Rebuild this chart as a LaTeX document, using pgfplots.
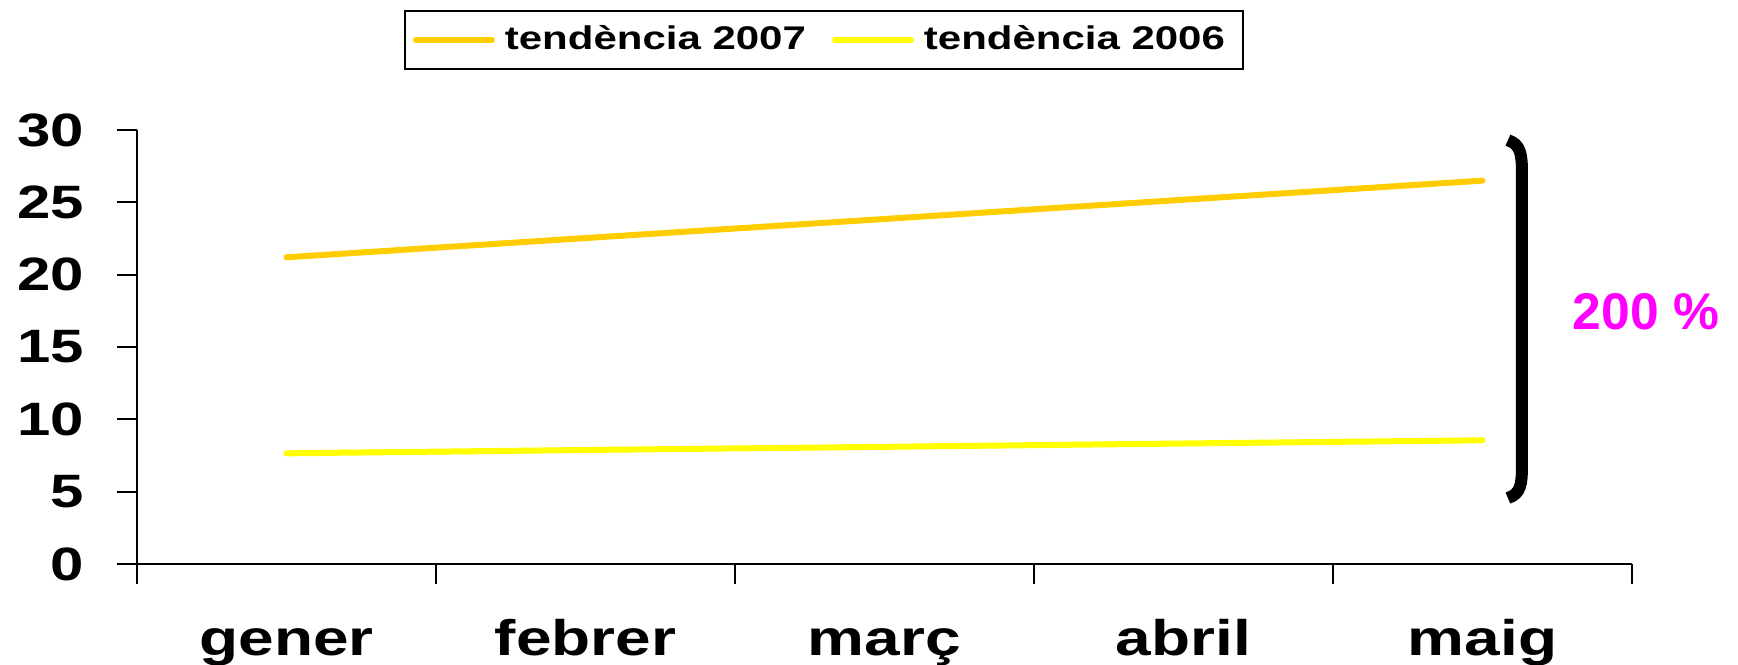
\documentclass[border=0pt]{standalone}
\usepackage{fontspec}
\setmainfont[FakeStretch=1.28]{Liberation Sans}
\newfontfamily\plainsans{Liberation Sans}
\usepackage{pgfplots}
\pgfplotsset{compat=1.18}
\definecolor{gold}{RGB}{255,204,0}
\definecolor{yel}{RGB}{255,255,0}
\definecolor{mag}{RGB}{255,0,255}

\begin{document}
\begin{tikzpicture}
\begin{axis}[
    at={(0pt,0pt)}, anchor=south west,
    width=373.75pt, height=108.5pt, scale only axis,
    xmin=0, xmax=5, ymin=0, ymax=30,
    axis x line=bottom, axis y line=left,
    axis line style={-, line width=0.5pt},
    xtick={0,1,2,3,4,5},
    xticklabels={gener,febrer,març,abril,maig},
    x tick label as interval,
    ytick={0,5,10,15,20,25,30},
    tick align=outside,
    major tick length=5pt,
    tick style={line width=0.5pt, black},
    /pgf/number format/assume math mode=true,
    yticklabel style={font=\fontsize{11.7}{13}\selectfont\bfseries, anchor=east, inner sep=0pt, xshift=-8pt},
    xticklabel style={font=\fontsize{12.5}{14}\selectfont\bfseries, anchor=base, inner sep=0pt, yshift=-17.8pt},
    clip=false,
    legend columns=2,
    legend style={at={(0.4595,1.2765)}, anchor=north, draw=black, line width=0.5pt,
        font=\fontsize{8.2}{9.5}\selectfont\bfseries, inner xsep=2pt, inner ysep=1.5pt,
        nodes={inner xsep=2.5pt, inner ysep=2pt},
        /tikz/every even column/.append style={column sep=4pt}},
    legend image code/.code={\draw[#1, line cap=round] (0pt,0pt) -- (19pt,0pt);},
]
\addplot[gold, line width=1.5pt, line cap=round] coordinates {
    (0.5,21.2) (1.5,22.53) (2.5,23.85) (3.5,25.18) (4.5,26.5)
};
\addlegendentry{tendència 2007}
\addplot[yel, line width=1.5pt, line cap=round] coordinates {
    (0.5,7.65) (1.5,7.88) (2.5,8.1) (3.5,8.33) (4.5,8.55)
};
\addlegendentry{tendència 2006}
\draw[line width=3pt] (axis cs:4.585,29.3) .. controls (axis cs:4.628,29.0) and (axis cs:4.632,28.3) .. (axis cs:4.632,27.0)
    -- (axis cs:4.632,6.84) .. controls (axis cs:4.632,5.5) and (axis cs:4.628,4.85) .. (axis cs:4.585,4.56);
\node[anchor=base, inner sep=0pt, text=mag, font=\plainsans\fontsize{12.9}{15}\selectfont\bfseries]
    at (axis cs:5.047,16.2) {200 \%};
\end{axis}
\pgfresetboundingbox
\useasboundingbox (-34.25pt,-25.25pt) rectangle (400.25pt,141pt);
\end{tikzpicture}
\end{document}
